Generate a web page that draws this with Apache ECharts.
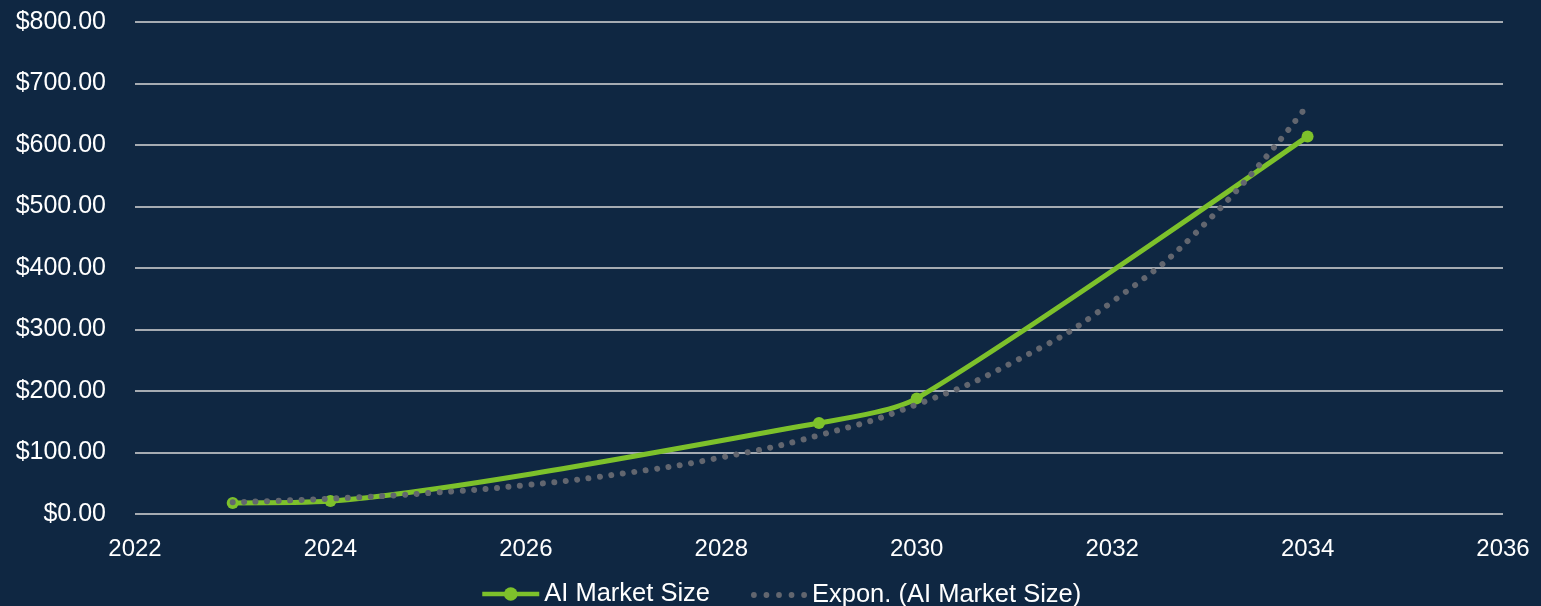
<!DOCTYPE html>
<html>
<head>
<meta charset="utf-8">
<script src="https://cdn.jsdelivr.net/npm/echarts@6/dist/echarts.min.js"></script>
<style>
html,body{margin:0;padding:0;background:#0f2742;}
#chart{width:1541px;height:606px;}
</style>
</head>
<body>
<div id="chart"></div>
<script>
const years = [2023, 2024, 2029, 2030, 2034];
const marketSize = [18, 21, 148, 188, 614];
const trendYears = [2023, 2024, 2025, 2026, 2027, 2028, 2029, 2030, 2031, 2032, 2033, 2034];
const trendValues = [19, 25, 34, 47, 66, 92, 128, 178, 248, 345, 480, 665];
const seriesNames = ['AI Market Size', 'Expon. (AI Market Size)'];

const chart = echarts.init(document.getElementById('chart'));
const font = 'Liberation Sans, Arial, sans-serif';
const dotsIcon = 'path://M0,3a3,3 0 1,0 6,0a3,3 0 1,0 -6,0Z M13,3a3,3 0 1,0 6,0a3,3 0 1,0 -6,0Z M26,3a3,3 0 1,0 6,0a3,3 0 1,0 -6,0Z M39,3a3,3 0 1,0 6,0a3,3 0 1,0 -6,0Z M52,3a3,3 0 1,0 6,0a3,3 0 1,0 -6,0Z';
const legendText = {color: '#ffffff', fontSize: 25.5, fontFamily: font};
chart.setOption({
  backgroundColor: '#0f2742',
  animation: false,
  grid: {left: 135, right: 38, top: 22, bottom: 92},
  legend: [
    {
      left: 480, top: 581, padding: 0,
      itemWidth: 57, itemHeight: 17, itemGap: 0,
      lineStyle: {width: 4.5},
      textStyle: legendText,
      data: [seriesNames[0]]
    },
    {
      left: 751, top: 582, padding: 0,
      itemWidth: 56, itemHeight: 6, itemGap: 0,
      textStyle: legendText,
      data: [{name: seriesNames[1], icon: dotsIcon}]
    }
  ],
  xAxis: {
    type: 'value', min: 2022, max: 2036, interval: 2,
    axisLine: {show: false}, axisTick: {show: false}, splitLine: {show: false},
    axisLabel: {color: '#ffffff', fontSize: 24, fontFamily: font, margin: 23, formatter: v => String(v)}
  },
  yAxis: {
    type: 'value', min: 0, max: 800, interval: 100,
    axisLine: {show: false}, axisTick: {show: false},
    splitLine: {lineStyle: {color: '#d9d9d9', width: 1.5}},
    axisLabel: {color: '#ffffff', fontSize: 25, fontFamily: font, margin: 29, formatter: v => '$' + v.toFixed(2)}
  },
  series: [
    {
      name: seriesNames[0], type: 'line', smooth: 0.25,
      data: years.map((y, i) => [y, marketSize[i]]),
      symbol: 'circle', symbolSize: 12,
      lineStyle: {color: '#7dc12b', width: 5},
      itemStyle: {color: '#7dc12b'},
      z: 2
    },
    {
      name: seriesNames[1], type: 'line', smooth: 0.5,
      data: trendYears.map((y, i) => [y, trendValues[i]]),
      symbol: 'none',
      lineStyle: {color: '#62666f', width: 6, type: [0.01, 11.5], cap: 'round'},
      itemStyle: {color: '#62666f'},
      z: 3
    }
  ]
});
</script>
</body>
</html>
